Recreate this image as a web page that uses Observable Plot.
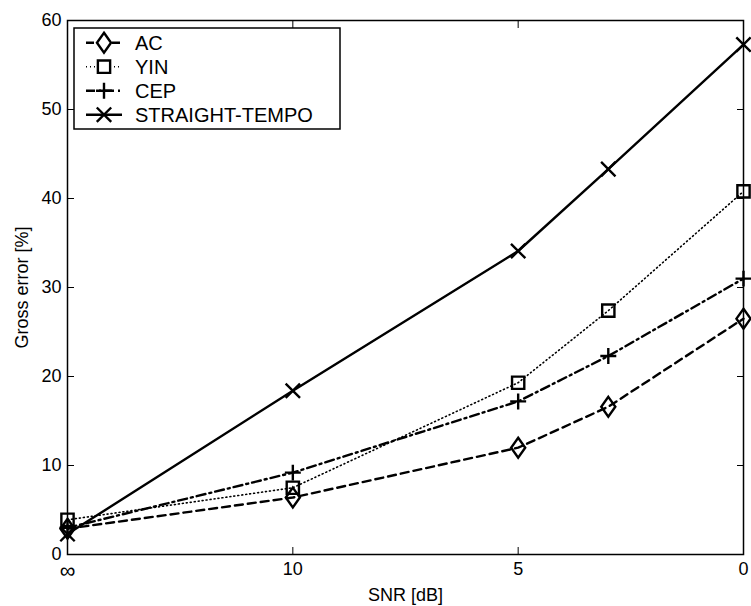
<!DOCTYPE html>
<html><head><meta charset="utf-8">
<script src="https://cdn.jsdelivr.net/npm/d3@7"></script>
<script src="https://cdn.jsdelivr.net/npm/@observablehq/plot@0.6"></script>
<style>
body{margin:0;background:#fff;font-family:"Liberation Sans",Arial,sans-serif}
#wrap{position:relative;width:751px;height:606px}
#legend{position:absolute;left:0;top:0}
</style>
</head><body><div id="wrap"></div>
<script>
// x positions: 15 stands for SNR = ∞ (clean speech)
const snr = [15, 10, 5, 3, 0];
const xTicks = [15, 10, 5, 0];
const xTickLabels = ["∞", "10", "5", "0"];
const yTicks = [0, 10, 20, 30, 40, 50, 60];
const seriesNames = ["AC", "YIN", "CEP", "STRAIGHT-TEMPO"];
const acValues = [2.9, 6.4, 12.0, 16.6, 26.5];
const yinValues = [3.9, 7.5, 19.3, 27.4, 40.8];
const cepValues = [3.0, 9.2, 17.2, 22.3, 31.0];
const stValues = [2.3, 18.4, 34.1, 43.3, 57.3];

const valuesBySeries = [acValues, yinValues, cepValues, stValues];

// custom diamond (taller than wide), size = pi r^2
const tallDiamond = {
  draw(context, size) {
    const r = Math.sqrt(size / Math.PI);
    const h = r * 1.55, w = r * 1.1;
    context.moveTo(0, -h); context.lineTo(w, 0); context.lineTo(0, h); context.lineTo(-w, 0); context.closePath();
  }
};

const styles = {
  "AC": {dash: "8,5", width: 2.4, symbol: tallDiamond, r: 6.4},
  "YIN": {dash: "1,3", width: 1.6, symbol: d3.symbolSquare2, r: 7.8},
  "CEP": {dash: "9,4,2,4", width: 2.4, symbol: d3.symbolPlus, r: 5.2},
  "STRAIGHT-TEMPO": {dash: null, width: 2.4, symbol: d3.symbolTimes, r: 6.6}
};

const rows = [];
seriesNames.forEach((name, i) => snr.forEach((s, j) => rows.push({series: name, snr: s, value: valuesBySeries[i][j]})));

const marks = [];
seriesNames.forEach(name => {
  const st = styles[name];
  const data = rows.filter(d => d.series === name);
  marks.push(Plot.line(data, {x: "snr", y: "value", stroke: "black", strokeWidth: st.width, strokeDasharray: st.dash}));
});
seriesNames.forEach(name => {
  const st = styles[name];
  const data = rows.filter(d => d.series === name);
  marks.push(Plot.dot(data, {x: "snr", y: "value", symbol: st.symbol, r: st.r, stroke: "black", fill: "none", strokeWidth: 2.4}));
});

const labelOf = d => xTickLabels[xTicks.indexOf(d)];

const chart = Plot.plot({
  width: 751, height: 606,
  marginLeft: 67, marginRight: 8, marginTop: 20, marginBottom: 52,
  style: {fontFamily: '"Liberation Sans", Arial, sans-serif', fontSize: "17px", background: "white", color: "black"},
  x: {domain: [15, 0], type: "linear"},
  y: {domain: [0, 60]},
  marks: [
    Plot.axisX({ticks: xTicks.slice(1), tickFormat: labelOf, tickSize: 0, tickPadding: 8, fontSize: 18,
      label: "SNR [dB]", labelAnchor: "center", labelOffset: 46, labelArrow: "none"}),
    Plot.axisX({ticks: xTicks.slice(0, 1), tickFormat: labelOf, tickSize: 0, tickPadding: 8, fontSize: 22, label: null}),
    Plot.axisX({ticks: xTicks, tickSize: -7, text: null, anchor: "bottom", label: null}),
    Plot.axisX({ticks: xTicks, tickSize: -7, text: null, anchor: "top", label: null}),
    Plot.axisY({ticks: yTicks, tickSize: 0, tickPadding: 6, fontSize: 18,
      label: "Gross error [%]", labelAnchor: "center", labelOffset: 52, labelArrow: "none"}),
    Plot.axisY({ticks: yTicks, tickSize: -7, text: null, anchor: "left", label: null}),
    Plot.axisY({ticks: yTicks, tickSize: -7, text: null, anchor: "right", label: null}),
    ...marks,
    Plot.frame({stroke: "black", strokeWidth: 1.5})
  ]
});
const wrap = document.getElementById("wrap");
wrap.appendChild(chart);

// legend overlay
const lg = d3.select(wrap).append("svg").attr("id", "legend").attr("width", 751).attr("height", 606);
lg.append("rect").attr("x", 74).attr("y", 28).attr("width", 266).attr("height", 101)
  .attr("fill", "white").attr("stroke", "black").attr("stroke-width", 1.5);
seriesNames.forEach((name, i) => {
  const st = styles[name];
  const cy = 42.7 + 24 * i;
  const g = lg.append("g");
  g.append("line").attr("x1", 86).attr("x2", 122).attr("y1", cy).attr("y2", cy)
    .attr("stroke", "black").attr("stroke-width", st.width).attr("stroke-dasharray", st.dash);
  g.append("path").attr("transform", `translate(104,${cy})`)
    .attr("d", d3.symbol().type(st.symbol).size(Math.PI * st.r * st.r)())
    .attr("fill", "white").attr("stroke", "black").attr("stroke-width", 2.4);
  g.append("text").attr("x", 135).attr("y", cy + 7).attr("font-size", 20)
    .attr("font-family", '"Liberation Sans", Arial, sans-serif').text(name);
});
</script>
</body></html>
